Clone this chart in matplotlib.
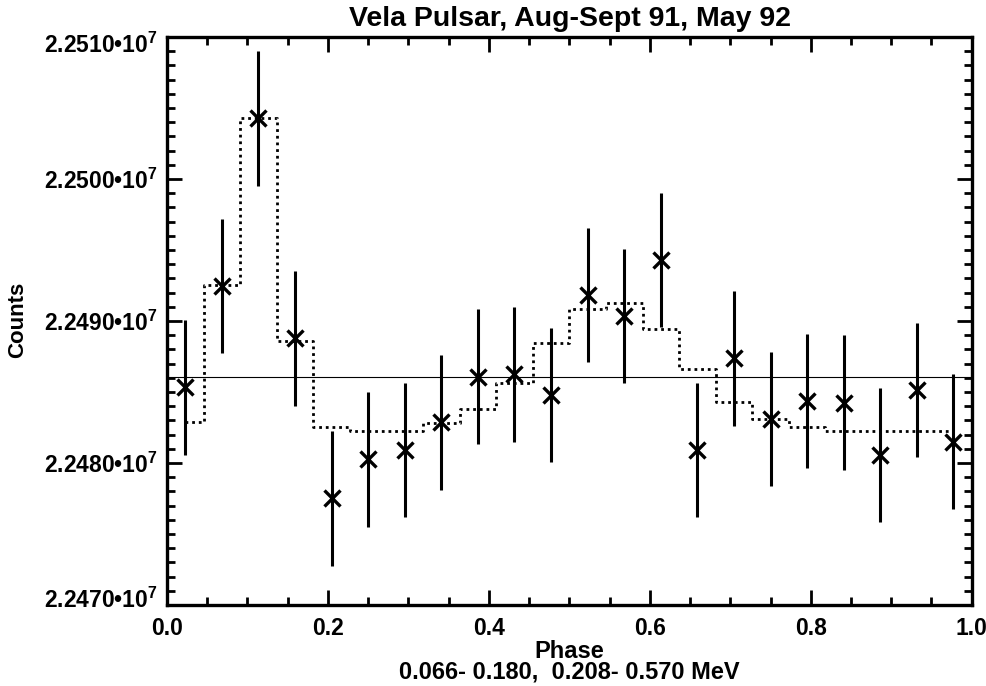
#!/usr/bin/env python3
"""Vela pulsar light curve: counts vs phase, IDL-style plot."""

import numpy as np
import matplotlib
matplotlib.use("Agg")
import matplotlib.pyplot as plt
from matplotlib.ticker import MultipleLocator, FixedLocator, FixedFormatter
from matplotlib.transforms import ScaledTranslation

plt.rcParams['font.family'] = ['Liberation Sans', 'DejaVu Sans']
plt.rcParams['font.weight'] = 'bold'
plt.rcParams['mathtext.fontset'] = 'custom'
plt.rcParams['mathtext.rm'] = 'Liberation Sans:bold'
plt.rcParams['mathtext.it'] = 'Liberation Sans:bold'
plt.rcParams['mathtext.bf'] = 'Liberation Sans:bold'

# 22 phase bins
phase = [0.0227, 0.0682, 0.1136, 0.1591, 0.2045, 0.2500, 0.2955, 0.3409,
         0.3864, 0.4318, 0.4773, 0.5227, 0.5682, 0.6136, 0.6591, 0.7045,
         0.7500, 0.7955, 0.8409, 0.8864, 0.9318, 0.9773]

counts = [2.248533e7, 2.249247e7, 2.250427e7, 2.248878e7, 2.247751e7,
          2.248026e7, 2.248092e7, 2.248287e7, 2.248608e7, 2.248625e7,
          2.248479e7, 2.249183e7, 2.249035e7, 2.249430e7, 2.248092e7,
          2.248737e7, 2.248310e7, 2.248437e7, 2.248425e7, 2.248056e7,
          2.248514e7, 2.248150e7]

errors = [4742, 4743, 4744, 4742, 4741, 4741, 4741, 4742, 4742, 4742,
          4742, 4743, 4742, 4743, 4741, 4742, 4742, 4742, 4742, 4741,
          4742, 4741]

model = [2.248287e7, 2.249254e7, 2.250427e7, 2.248861e7, 2.248254e7,
         2.248228e7, 2.248228e7, 2.248284e7, 2.248378e7, 2.248566e7,
         2.248843e7, 2.249082e7, 2.249129e7, 2.248942e7, 2.248660e7,
         2.248432e7, 2.248310e7, 2.248256e7, 2.248225e7, 2.248223e7,
         2.248222e7, 2.248222e7]

mean_level = 2.248606e7

ytick_vals = [2.2470e7, 2.2480e7, 2.2490e7, 2.2500e7, 2.2510e7]
ytick_labels = ["2.2470\u202210$^{7}$", "2.2480\u202210$^{7}$",
                "2.2490\u202210$^{7}$", "2.2500\u202210$^{7}$",
                "2.2510\u202210$^{7}$"]

fig = plt.figure(figsize=(9.86, 6.86), dpi=100)
ax = fig.add_axes([0.1694, 0.1181, 0.8161, 0.828])

# model as histogram-mode step line (IDL psym=10)
ax.step(phase, model, where='mid', color='black', lw=2.0,
        linestyle=(0, (1, 1.4)))

ax.axhline(mean_level, color='black', lw=0.8)

ax.errorbar(phase, counts, yerr=errors, fmt='none', ecolor='black',
            elinewidth=2.2, capsize=0)
ax.plot(phase, counts, 'x', color='black', markersize=11, mew=2.4)

ax.set_xlim(0, 1)
ax.set_ylim(2.2470e7, 2.2510e7)

ax.xaxis.set_major_locator(MultipleLocator(0.2))
ax.xaxis.set_minor_locator(MultipleLocator(0.05))
ax.xaxis.set_major_formatter(plt.FuncFormatter(lambda v, p: f"{v:.1f}"))
ax.yaxis.set_major_locator(FixedLocator(ytick_vals))
ax.yaxis.set_major_formatter(FixedFormatter(ytick_labels))
ax.yaxis.set_minor_locator(MultipleLocator(1000))

ax.tick_params(which='both', direction='in', top=True, right=True,
               width=2.0, labelsize=16.5)
ax.tick_params(which='major', length=11)
ax.tick_params(which='minor', length=6)
ax.tick_params(axis='x', pad=9)
ax.tick_params(axis='y', pad=7)
for s in ax.spines.values():
    s.set_linewidth(2.4)

# IDL keeps the end labels inside the axis range
fig.canvas.draw()
yticks = ax.yaxis.get_major_ticks()
for tick, dy in ((yticks[0], 5), (yticks[-1], -4)):
    lab = tick.label1
    lab.set_transform(lab.get_transform() +
                      ScaledTranslation(0, dy / 72, fig.dpi_scale_trans))

fig.text(0.5776, 0.972, "Vela Pulsar, Aug-Sept 91, May 92", ha='center',
         va='center', fontsize=20.5, fontweight='bold')
fig.text(0.018, 0.5335, "Counts", rotation=90, ha='center', va='center',
         fontsize=16, fontweight='bold')
fig.text(0.5776, 0.051, "Phase", ha='center', va='center', fontsize=17,
         fontweight='bold')
fig.text(0.5776, 0.0204, "0.066- 0.180,  0.208- 0.570 MeV", ha='center',
         va='center', fontsize=17, fontweight='bold')

fig.savefig("out.png", dpi=100)
